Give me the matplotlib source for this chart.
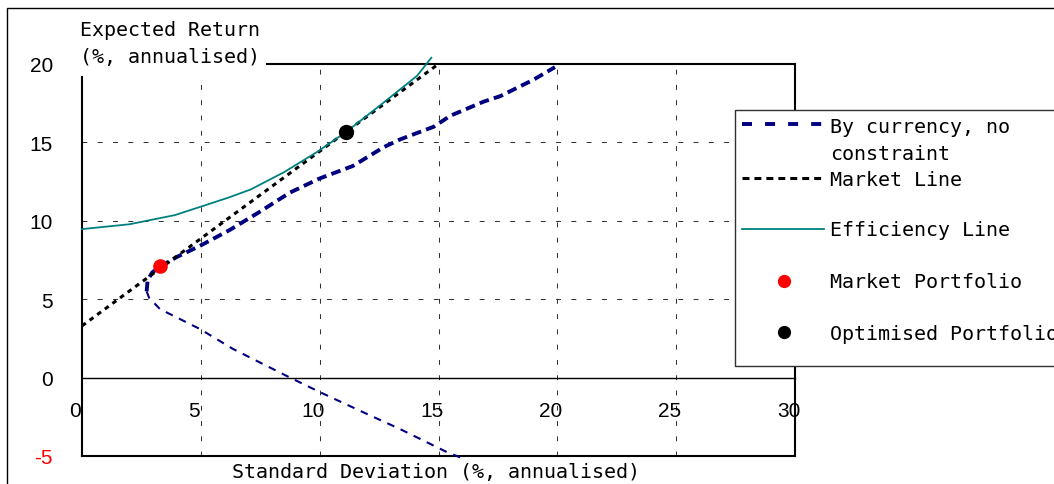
import matplotlib
matplotlib.use("Agg")
import matplotlib.pyplot as plt
import matplotlib.transforms as mtransforms
from matplotlib.lines import Line2D
from matplotlib.patches import Rectangle

plt.rcParams['lines.scale_dashes'] = False
plt.rcParams['axes.unicode_minus'] = False

# By currency, no constraint - upper (efficient) half of the frontier
upper_sd = [2.72, 2.76, 2.95, 3.3, 4.0, 4.96, 6.2, 7.4, 8.75, 10.0, 11.4, 12.7, 13.4, 14.8, 15.5, 16.9, 17.6, 19.0, 19.9]
upper_ret = [5.5, 6.2, 6.7, 7.1, 7.7, 8.4, 9.4, 10.5, 11.8, 12.7, 13.5, 14.7, 15.2, 16.0, 16.7, 17.6, 17.95, 19.0, 19.8]
# lower half of the frontier
lower_sd = [2.72, 2.82, 3.28, 4.96, 6.35, 7.78, 8.62, 10.0, 11.99, 13.38, 15.35, 16.1]
lower_ret = [5.5, 5.1, 4.37, 3.1, 1.83, 0.74, 0.1, -0.92, -2.32, -3.28, -4.75, -5.2]

# Market line
mkt_sd = [0, 15]
mkt_ret = [3.3, 20]

# Efficiency line
eff_sd = [0, 2.0, 3.9, 5.2, 6.2, 7.1, 8.5, 9.9, 11.1, 12.7, 14.1, 14.7]
eff_ret = [9.47, 9.78, 10.36, 11.0, 11.5, 12.0, 13.1, 14.4, 15.65, 17.55, 19.25, 20.4]

# portfolios
market_pf = (3.3, 7.1)
optimised_pf = (11.1, 15.65)

x_ticks = [0, 5, 10, 15, 20, 25, 30]
y_ticks = [-5, 0, 5, 10, 15, 20]

NAVY = '#000080'
TEAL = '#008080'
MONO = 'DejaVu Sans Mono'
NUM = 'Liberation Sans'

W, H = 1054, 485
fig = plt.figure(figsize=(10.54, 4.85), dpi=100)


def fx(px):
    return px / W


def fy(py):
    return 1 - py / H


ax = fig.add_axes([fx(82), fy(457), (795 - 82) / W, (457 - 65) / H])
ax.set_xlim(0, 30)
ax.set_ylim(-5, 20)

# grid
for x in x_ticks[1:-1]:
    ax.axvline(x, color='#333333', lw=0.75, dashes=(3.5, 7.5), zorder=1)
for y in [5, 10, 15]:
    ax.axhline(y, color='#333333', lw=0.75, dashes=(3.5, 7.5), zorder=1)

# zero line as the bottom spine, real frame at y=-5
ax.spines['bottom'].set_position(('data', 0))
ax.spines['bottom'].set_linewidth(1.0)
for s in ['left', 'right', 'top']:
    ax.spines[s].set_linewidth(1.5)
ax.plot([0, 1], [0, 0], transform=ax.transAxes, color='black', lw=1.5, clip_on=False)

# lines
ax.plot(lower_sd, lower_ret, color=NAVY, lw=1.5, dashes=(5.5, 5), clip_on=False, zorder=3)
ax.plot(upper_sd, upper_ret, color=NAVY, lw=2.8, dashes=(7, 3.8), zorder=3)
ax.plot(mkt_sd, mkt_ret, color='black', lw=2.2, dashes=(3.4, 3.4), zorder=4)
ax.plot(eff_sd, eff_ret, color=TEAL, lw=1.3, clip_on=False, zorder=4)
ax.plot(*market_pf, 'o', color='red', ms=9.5, zorder=5)
ax.plot(*optimised_pf, 'o', color='black', ms=10, zorder=5)

# ticks
ax.set_xticks(x_ticks)
ax.set_yticks(y_ticks)
ax.tick_params(axis='x', length=0, pad=16.5, labelsize=15)
ax.tick_params(axis='y', length=0, pad=21, labelsize=15)
shift = mtransforms.ScaledTranslation(-6.5 / 100, 0, fig.dpi_scale_trans)
for lab in ax.get_xticklabels():
    lab.set_fontfamily(NUM)
    lab.set_transform(lab.get_transform() + shift)
for lab in ax.get_yticklabels():
    lab.set_fontfamily(NUM)
ax.get_yticklabels()[0].set_color('red')

# outer chart frame
fig.add_artist(Rectangle((fx(7), -0.1), 2, fy(9) + 0.1, transform=fig.transFigure,
                         fill=False, ec='black', lw=1, zorder=1))

# axis titles
fig.add_artist(Rectangle((fx(72), fy(77)), (266 - 72) / W, (77 - 12) / H,
                         transform=fig.transFigure, fc='white', ec='none', zorder=2))
fig.text(fx(80), fy(30), 'Expected Return', family=MONO, fontsize=14.4, va='center', zorder=3)
fig.text(fx(80), fy(57), '(%, annualised)', family=MONO, fontsize=14.4, va='center', zorder=3)
fig.text(fx(436), fy(473), 'Standard Deviation (%, annualised)', family=MONO, fontsize=14.4,
         ha='center', va='center', zorder=3)

# legend
fig.add_artist(Rectangle((fx(735), fy(367)), 1, (367 - 111) / H, transform=fig.transFigure,
                         fc='white', ec='#303030', lw=1, zorder=2))
hx = [fx(742), fx(824)]
fig.add_artist(Line2D(hx, [fy(125)] * 2, transform=fig.transFigure, color=NAVY, lw=2.8,
                      dashes=(7.2, 9.4), zorder=3))
fig.add_artist(Line2D(hx, [fy(179)] * 2, transform=fig.transFigure, color='black', lw=2.2,
                      dashes=(5, 3.6), zorder=3))
fig.add_artist(Line2D(hx, [fy(230)] * 2, transform=fig.transFigure, color=TEAL, lw=1.3, zorder=3))
fig.add_artist(Line2D([fx(784)], [fy(282)], transform=fig.transFigure, marker='o', color='red',
                      ms=8.5, ls='none', zorder=3))
fig.add_artist(Line2D([fx(784)], [fy(333)], transform=fig.transFigure, marker='o', color='black',
                      ms=8.5, ls='none', zorder=3))
leg_rows = [('By currency, no', 128), ('constraint', 154), ('Market Line', 180),
            ('Efficiency Line', 231), ('Market Portfolio', 283), ('Optimised Portfolio', 334)]
for txt, py in leg_rows:
    fig.text(fx(830), fy(py), txt, family=MONO, fontsize=14.4, va='center', zorder=3)

fig.savefig('out.png', dpi=100)
